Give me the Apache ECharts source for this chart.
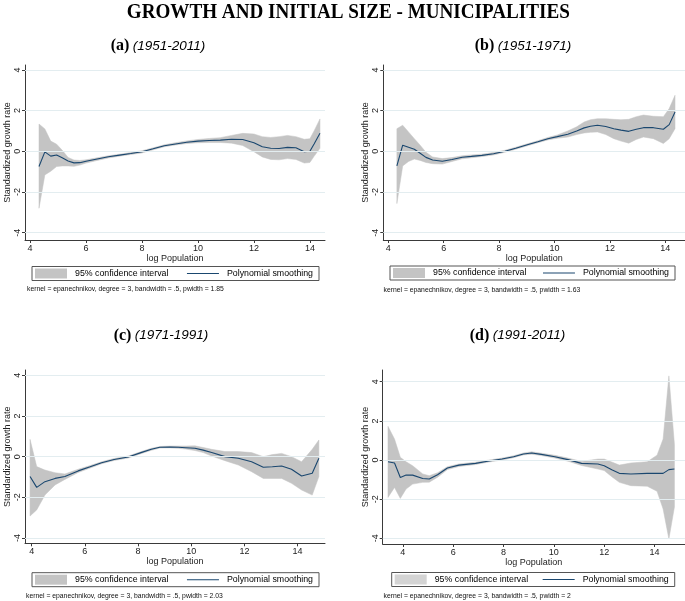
<!DOCTYPE html>
<html><head><meta charset="utf-8">
<script src="https://cdn.jsdelivr.net/npm/echarts@6/dist/echarts.min.js"></script>
<style>html,body{margin:0;padding:0;background:#fff}#c{width:685px;height:601px}</style>
</head><body><div id="c"></div>
<script>
// ---- Data ----
const xA  = [4.32,4.53,4.74,4.95,5.15,5.36,5.57,5.78,6.0,6.4,6.8,7.2,7.6,8.0,8.4,8.8,9.2,9.6,10.0,10.4,10.8,11.2,11.6,12.0,12.3,12.6,12.9,13.2,13.5,13.8,14.0,14.15,14.36];
const yA  = [-0.75,-0.03,-0.24,-0.18,-0.32,-0.48,-0.57,-0.56,-0.49,-0.38,-0.27,-0.19,-0.11,-0.02,0.12,0.27,0.36,0.44,0.50,0.53,0.55,0.59,0.58,0.42,0.22,0.15,0.14,0.19,0.17,-0.02,0.0,0.36,0.89];
const hiA = [1.34,1.1,0.5,0.35,0.05,-0.3,-0.43,-0.45,-0.42,-0.32,-0.22,-0.14,-0.06,0.03,0.17,0.32,0.42,0.51,0.58,0.63,0.67,0.78,0.88,0.85,0.72,0.68,0.72,0.78,0.72,0.59,0.62,1.0,1.59];
const loA = [-2.8,-1.16,-0.98,-0.75,-0.72,-0.72,-0.74,-0.68,-0.58,-0.45,-0.33,-0.24,-0.16,-0.08,0.07,0.22,0.31,0.38,0.42,0.43,0.43,0.40,0.28,-0.02,-0.28,-0.40,-0.42,-0.36,-0.40,-0.58,-0.55,-0.25,0.15];

const xB  = [4.31,4.52,4.73,4.94,5.15,5.36,5.6,5.95,6.3,6.67,7.0,7.38,7.8,8.21,8.6,9.05,9.4,9.76,10.1,10.48,10.8,11.07,11.3,11.55,11.85,12.14,12.4,12.68,12.95,13.21,13.57,13.93,14.14,14.35];
const yB  = [-0.72,0.3,0.2,0.1,-0.1,-0.3,-0.43,-0.49,-0.4,-0.29,-0.25,-0.2,-0.12,0.0,0.15,0.33,0.47,0.62,0.72,0.84,1.0,1.15,1.23,1.28,1.22,1.11,1.04,0.98,1.08,1.16,1.16,1.08,1.31,1.93];
const hiB = [1.11,1.28,0.95,0.62,0.3,-0.05,-0.28,-0.36,-0.31,-0.22,-0.18,-0.14,-0.06,0.05,0.2,0.38,0.52,0.68,0.8,1.0,1.2,1.44,1.55,1.6,1.6,1.57,1.55,1.57,1.7,1.78,1.72,1.7,2.1,2.75];
const loB = [-2.57,-0.72,-0.5,-0.38,-0.45,-0.55,-0.61,-0.63,-0.5,-0.37,-0.32,-0.26,-0.18,-0.05,0.1,0.28,0.42,0.56,0.64,0.7,0.82,0.9,0.93,0.95,0.82,0.62,0.5,0.4,0.58,0.7,0.62,0.38,0.62,1.11];

const xC  = [3.94,4.19,4.5,4.88,5.25,5.75,6.2,6.63,7.1,7.63,8.14,8.5,8.82,9.2,9.51,9.8,10.14,10.45,10.77,11.27,11.77,12.27,12.71,13.05,13.4,13.77,14.15,14.55,14.8];
const yC  = [-0.98,-1.51,-1.23,-1.07,-0.98,-0.7,-0.5,-0.3,-0.14,-0.02,0.21,0.36,0.46,0.47,0.46,0.44,0.41,0.32,0.2,0.0,-0.08,-0.25,-0.52,-0.5,-0.46,-0.62,-0.95,-0.82,-0.08];
const hiC = [0.85,-0.49,-0.66,-0.79,-0.85,-0.62,-0.44,-0.25,-0.09,0.03,0.26,0.41,0.5,0.52,0.52,0.52,0.53,0.45,0.36,0.25,0.25,0.2,0.0,0.1,0.16,0.0,-0.25,0.36,0.82];
const loC = [-2.92,-2.62,-1.89,-1.39,-1.12,-0.78,-0.56,-0.35,-0.19,-0.07,0.16,0.31,0.42,0.43,0.41,0.37,0.3,0.2,0.03,-0.2,-0.41,-0.74,-1.07,-1.07,-1.07,-1.31,-1.64,-1.89,-0.98];

const xD  = [3.41,3.67,3.9,4.13,4.39,4.79,5.05,5.38,5.77,6.23,6.89,7.42,7.94,8.4,8.79,9.12,9.5,10.04,10.56,11.1,11.75,12.0,12.3,12.6,13.06,13.71,14.1,14.34,14.57,14.79];
const yD  = [-0.09,-0.15,-0.89,-0.77,-0.77,-0.94,-0.97,-0.75,-0.41,-0.26,-0.17,-0.05,0.05,0.17,0.31,0.36,0.29,0.17,0.02,-0.17,-0.2,-0.29,-0.5,-0.68,-0.71,-0.68,-0.68,-0.68,-0.49,-0.46];
const hiD = [1.72,1.07,0.14,-0.09,-0.29,-0.71,-0.8,-0.65,-0.34,-0.2,-0.11,0.0,0.1,0.22,0.36,0.42,0.35,0.24,0.1,-0.07,0.05,0.05,-0.1,-0.26,-0.15,-0.09,0.25,1.07,4.3,0.8];
const loD = [-1.91,-1.4,-1.96,-1.48,-1.23,-1.14,-1.13,-0.88,-0.49,-0.33,-0.23,-0.1,0.0,0.12,0.26,0.3,0.23,0.1,-0.06,-0.28,-0.46,-0.54,-0.85,-1.14,-1.31,-1.34,-1.6,-2.5,-4.03,-2.4];

const xTicks = [4,6,8,10,12,14];
const yTicks = [-4,-2,0,2,4];
const panelTitles = [['(a)','(1951-2011)'],['(b)','(1951-1971)'],['(c)','(1971-1991)'],['(d)','(1991-2011)']];
const notes = [
  'kernel = epanechnikov, degree = 3, bandwidth = .5, pwidth = 1.85',
  'kernel = epanechnikov, degree = 3, bandwidth = .5, pwidth = 1.63',
  'kernel = epanechnikov, degree = 3, bandwidth = .5, pwidth = 2.03',
  'kernel = epanechnikov, degree = 3, bandwidth = .5, pwidth = 2'
];
const mainTitle = 'GROWTH AND INITIAL SIZE - MUNICIPALITIES';
const ciName = '95% confidence interval';
const lineName = 'Polynomial smoothing';
const xAxisName = 'log Population';
const yAxisName = 'Standardized growth rate';

// ---- Layout ----
const panels = [
  {x:xA,y:yA,hi:hiA,lo:loA, grid:{left:25,top:65,width:300,height:175}, xr:[3.82,14.54], yr:[-4.36,4.24],
   legend:{left:32,top:266.5,gap:18}, note:[27,289], title:[158,46]},
  {x:xB,y:yB,hi:hiB,lo:loB, grid:{left:383.3,top:65,width:305,height:175}, xr:[3.82,14.71], yr:[-4.36,4.24],
   legend:{left:390,top:266,gap:16}, note:[383.5,290], title:[523,46]},
  {x:xC,y:yC,hi:hiC,lo:loC, grid:{left:25,top:370,width:300,height:173.3}, xr:[3.75,15.03], yr:[-4.26,4.26],
   legend:{left:32,top:572.7,gap:18}, note:[26,596], title:[161,335.5]},
  {x:xD,y:yD,hi:hiD,lo:loD, grid:{left:382.7,top:370,width:305,height:174}, xr:[3.2,15.21], yr:[-4.29,4.6],
   legend:{left:391.7,top:572.5,gap:14}, note:[383.5,596], title:[517.5,335.5]}
];
const FONT = '"Liberation Sans", Arial, sans-serif';
const axisColor = '#3a3a3a';
const bandColor = '#c4c4c4';
const lineColor = '#1a476f';

const grids=[], xAxes=[], yAxes=[], series=[], legends=[], graphics=[];
panels.forEach((p,i)=>{
  grids.push(Object.assign({containLabel:false}, p.grid));
  xAxes.push({gridIndex:i,type:'value',min:p.xr[0],max:p.xr[1],
    axisLine:{show:true,onZero:false,lineStyle:{color:axisColor,width:1}},
    axisTick:{show:true,length:3,customValues:xTicks,lineStyle:{color:axisColor}},
    axisLabel:{customValues:xTicks,fontSize:9,margin:4,color:'#222',fontFamily:FONT},
    splitLine:{show:false},
    name:xAxisName,nameLocation:'middle',nameGap:12,nameTextStyle:{fontSize:9,color:'#222',fontFamily:FONT}});
  yAxes.push({gridIndex:i,type:'value',min:p.yr[0],max:p.yr[1],
    axisLine:{show:true,onZero:false,lineStyle:{color:axisColor,width:1}},
    axisTick:{show:true,length:3,customValues:yTicks,lineStyle:{color:axisColor}},
    axisLabel:{customValues:yTicks,fontSize:9,margin:3,rotate:90,color:'#222',fontFamily:FONT},
    splitLine:{show:false},
    name:yAxisName,nameLocation:'middle',nameGap:13,nameRotate:90,nameTextStyle:{fontSize:9,color:'#222',fontFamily:FONT}});
  // invisible carrier for horizontal gridlines (drawn beneath the band)
  series.push({type:'line',xAxisIndex:i,yAxisIndex:i,symbol:'none',silent:true,z:1,
    lineStyle:{opacity:0,width:0},
    data:p.x.map((v,k)=>[v,p.y[k]]),
    markLine:{silent:true,symbol:['none','none'],label:{show:false},animation:false,
      lineStyle:{color:'#e3edf0',width:1,type:'solid'},
      data:yTicks.map(t=>({yAxis:t}))}});
  // confidence band as one polygon through the axis scales
  series.push({type:'custom',name:ciName,xAxisIndex:i,yAxisIndex:i,silent:true,z:2,clip:true,
    itemStyle:{color:bandColor},
    data:p.x.map((v,k)=>[v,p.lo[k],p.hi[k]]),
    encode:{x:0,y:[1,2]},
    renderItem:(params,api)=>{
      if(params.dataIndex!==0) return null;
      const pts=[];
      for(let k=0;k<p.x.length;k++) pts.push(api.coord([p.x[k],p.hi[k]]));
      for(let k=p.x.length-1;k>=0;k--) pts.push(api.coord([p.x[k],p.lo[k]]));
      return {type:'polygon',shape:{points:pts},style:{fill:bandColor,stroke:bandColor,lineWidth:0.5}};
    }});
  series.push({type:'line',name:lineName,xAxisIndex:i,yAxisIndex:i,symbol:'none',showSymbol:false,silent:true,z:3,
    lineStyle:{color:lineColor,width:1.1},itemStyle:{color:lineColor},
    data:p.x.map((v,k)=>[v,p.y[k]])});
  legends.push({left:p.legend.left,top:p.legend.top,orient:'horizontal',selectedMode:false,
    itemWidth:32,itemHeight:10,itemGap:p.legend.gap,padding:[2,6,2,3],borderColor:'#555',borderWidth:1,
    textStyle:{fontSize:8.8,color:'#000',fontFamily:FONT,padding:[0,0,0,3]},
    data:[{name:ciName,icon:'rect',itemStyle:{color:i===3?'#d4d4d4':bandColor,borderWidth:0}},
          {name:lineName,itemStyle:{opacity:0,color:'rgba(0,0,0,0)',borderWidth:0},
           lineStyle:{color:lineColor,width:1.1,opacity:1}}]});
  graphics.push({type:'text',x:p.note[0],y:p.note[1],silent:true,
    style:{text:notes[i],font:'6.8px '+FONT,fill:'#111',align:'left',verticalAlign:'middle'}});
  graphics.push({type:'text',x:p.title[0],y:p.title[1],silent:true,
    style:{text:'{b|'+panelTitles[i][0]+'} {s|'+panelTitles[i][1]+'}',align:'center',verticalAlign:'middle',
      rich:{b:{fontFamily:'"Liberation Serif", serif',fontWeight:'bold',fontSize:16,fill:'#000'},
            s:{fontFamily:FONT,fontStyle:'italic',fontSize:13.5,fill:'#000'}}}});
});

// main title: condensed bold serif, fitted to the reference width
const cv=document.createElement('canvas').getContext('2d');
const tFont='bold 22px "Liberation Serif"';
cv.font=tFont;
const tw=cv.measureText(mainTitle).width;
graphics.push({type:'text',x:348.3,y:12.5,scaleX:443/tw,silent:true,
  style:{text:mainTitle,font:tFont,fill:'#000',align:'center',verticalAlign:'middle'}});

const chart=echarts.init(document.getElementById('c'),null,{renderer:'canvas'});
chart.setOption({animation:false,backgroundColor:'#fff',tooltip:{show:false},
  grid:grids,xAxis:xAxes,yAxis:yAxes,series:series,legend:legends,graphic:graphics});
</script></body></html>
